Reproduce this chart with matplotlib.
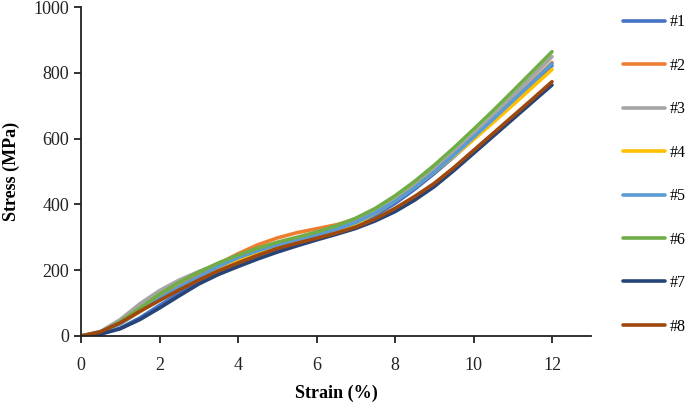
import matplotlib
matplotlib.use("Agg")
import matplotlib.pyplot as plt

strain = [0, 0.5, 1, 1.5, 2, 2.5, 3, 3.5, 4, 4.5, 5, 5.5, 6, 6.5, 7, 7.5,
          8, 8.5, 9, 9.5, 10, 10.5, 11, 11.5, 12]

s1 = [0, 6, 24, 55, 93, 130, 164, 195, 222, 245, 265, 282, 298, 316, 338, 367,
      403, 446, 494, 545, 599, 654, 710, 766, 822]
s2 = [0, 11, 40, 78, 116, 151, 184, 219, 250, 277, 298, 314, 326, 338, 355, 380,
      413, 453, 500, 551, 605, 660, 716, 773, 831]
s3 = [0, 14, 50, 98, 138, 170, 196, 219, 240, 260, 278, 293, 308, 327, 350, 380,
      416, 458, 506, 558, 613, 670, 729, 789, 849]
s4 = [0, 10, 37, 74, 111, 147, 179, 207, 231, 252, 270, 285, 300, 318, 341, 373,
      411, 453, 499, 547, 597, 649, 702, 756, 810]
s5 = [0, 10, 37, 76, 114, 149, 180, 211, 238, 259, 277, 292, 307, 324, 345, 374,
      410, 452, 499, 550, 604, 659, 715, 771, 828]
s6 = [0, 12, 43, 85, 127, 163, 194, 222, 246, 267, 285, 300, 316, 335, 358, 388,
      426, 470, 519, 572, 628, 685, 744, 804, 864]
s7 = [0, 6, 22, 50, 85, 122, 158, 187, 211, 234, 255, 274, 292, 309, 327, 350,
      378, 413, 454, 503, 555, 607, 659, 711, 763]
s8 = [0, 13, 40, 75, 108, 140, 170, 198, 222, 245, 266, 282, 297, 313, 331, 356,
      388, 424, 464, 512, 564, 616, 668, 720, 773]

labels = ["#1", "#2", "#3", "#4", "#5", "#6", "#7", "#8"]
colors = ["#4472C4", "#ED7D31", "#A5A5A5", "#FFC000",
          "#5B9BD5", "#70AD47", "#264478", "#9E480E"]
series = [s1, s2, s3, s4, s5, s6, s7, s8]

xticks = [0, 2, 4, 6, 8, 10, 12]
yticks = [0, 200, 400, 600, 800, 1000]

plt.rcParams["font.family"] = ["Liberation Serif", "DejaVu Serif"]

fig = plt.figure(figsize=(6.85, 4.03), dpi=100)
ax = fig.add_axes([81/685, 1-336/403, (591.25-81)/685, 329/403])

for ys, lab, c in zip(series, labels, colors):
    ax.plot(strain, ys, color=c, lw=2.6, label=lab,
            solid_capstyle="round", solid_joinstyle="round")

ax.set_xlim(0, 13)
ax.set_ylim(0, 1000)
ax.set_xticks(xticks)
ax.set_yticks(yticks)
for sp in ["top", "right"]:
    ax.spines[sp].set_visible(False)
for sp in ["left", "bottom"]:
    ax.spines[sp].set_linewidth(1.3)
    ax.spines[sp].set_color("#222222")
ax.tick_params(direction="out", length=5, width=1.3, labelsize=13, colors="#222222")
ax.tick_params(axis="x", pad=10)
ax.set_xlabel("Strain (%)", fontsize=13, fontweight="bold", labelpad=8)
ax.set_ylabel("Stress (MPa)", fontsize=13, fontweight="bold", labelpad=10)

h, l = ax.get_legend_handles_labels()
fig.legend(h, l, loc="center left", bbox_to_anchor=(623/685, 1-174.4/403),
           frameon=False, fontsize=11.5, handlelength=2.65, handletextpad=0.25,
           labelspacing=1.72, borderpad=0, borderaxespad=0)

fig.savefig("out.png", dpi=100)
